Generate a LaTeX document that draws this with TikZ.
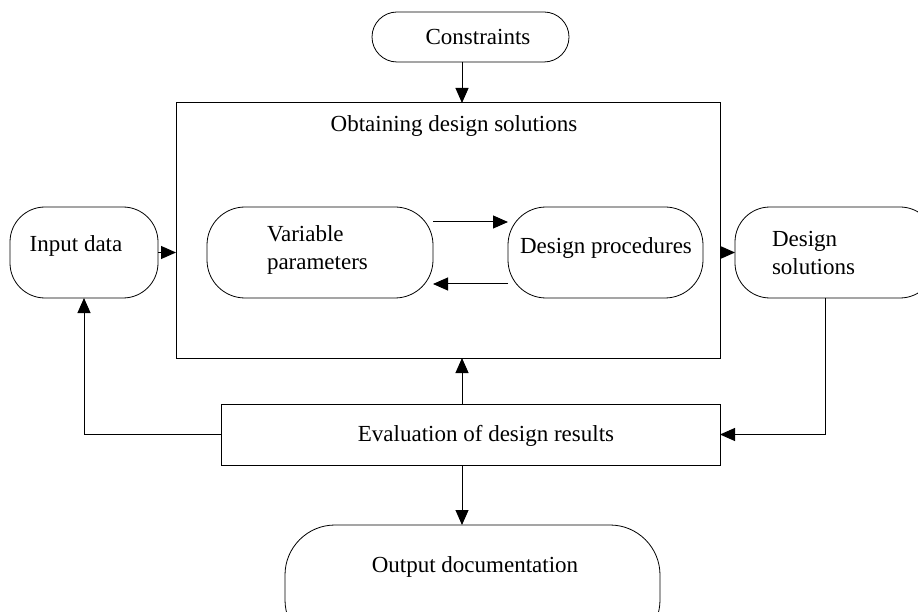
\documentclass[tikz,border=0pt]{standalone}
\usepackage{fontspec}
\setmainfont{Liberation Serif}
\usetikzlibrary{arrows.meta}
\begin{document}
\begin{tikzpicture}[x=1pt,y=-1pt,
  every node/.style={inner sep=0pt, outer sep=0pt},
  pill/.style={draw, line width=0.8pt},
  box/.style={draw, line width=1pt},
  txt/.style={font=\fontsize{23}{27.5}\selectfont, align=left},
  conn/.style={line width=1pt, -{Triangle[length=15pt,width=13pt]}}]
\useasboundingbox (0,0) rectangle (918,612);
\clip (0,0) rectangle (918,612);

% outer frame and the bar below it
\node[box, minimum width=544pt, minimum height=255pt] (main) at (448,230.5) {};
\node[box, minimum width=499pt, minimum height=61pt] (eval) at (470.5,434.5) {};

% rounded blocks
\node[pill, rounded corners=25pt, minimum width=197pt, minimum height=50pt] (cons) at (470.5,37) {};
\node[pill, rounded corners=35pt, minimum width=148pt, minimum height=91pt] (input) at (84,252.5) {};
\node[pill, rounded corners=38pt, minimum width=226pt, minimum height=91pt] (var) at (320,252.5) {};
\node[pill, rounded corners=38pt, minimum width=195pt, minimum height=91pt] (proc) at (605.5,252.5) {};
\node[pill, rounded corners=35pt, minimum width=200pt, minimum height=91pt] (sol) at (835,252.5) {};
\node[pill, rounded corners=50pt, minimum width=375pt, minimum height=125pt] (out) at (472.5,587.5) {};

% labels
\node[txt] (cons-t) at (478,37) {Constraints};
\node[txt] (main-t) at (454,126) {Obtaining design solutions};
\node[txt] (input-t) at (76,246) {Input data};
\node[txt, anchor=west] (var-t) at (267,250) {Variable\\parameters};
\node[txt] (proc-t) at (606,248) {Design procedures};
\node[txt, anchor=west] (sol-t) at (772,253) {Design\\solutions};
\node[txt] (eval-t) at (486,436) {Evaluation of design results};
\node[txt] (out-t) at (475,567) {Output documentation};

% helper coordinates for the connector lines
\coordinate (cx) at (462,0);
\coordinate (sx) at (825,0);
\coordinate (ya) at (0,222);
\coordinate (yb) at (0,284);

% connectors
\draw[conn] (cons.south -| cx) -- (main.north -| cx);
\draw[conn] (input.east) -- (main.west |- input.east);
\draw[conn] (main.east |- sol.west) -- (sol.west);
\draw[conn] (var.east |- ya) -- (proc.west |- ya);
\draw[conn] (proc.west |- yb) -- (var.east |- yb);
\draw[conn] (eval.north -| cx) -- (main.south -| cx);
\draw[conn] (eval.south -| cx) -- (out.north -| cx);
\draw[conn] (sol.south -| sx) |- (eval.east);
\draw[conn] (eval.west) -| (input.south);
\end{tikzpicture}
\end{document}
